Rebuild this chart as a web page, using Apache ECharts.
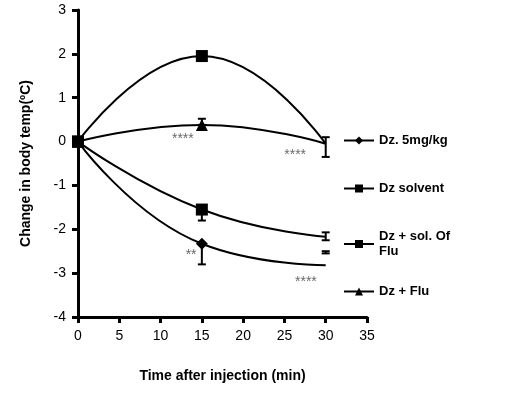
<!DOCTYPE html><html><head><meta charset="utf-8"><script src="https://cdn.jsdelivr.net/npm/echarts@6/dist/echarts.min.js"></script></head><body style="margin:0"><div id="c" style="width:508px;height:406px"></div><script>
const times=[0,15,30];
const dz5=[0,-2.33,-2.82];
const dzSolvent=[0,1.95,-0.05];
const dzSolFlu=[0,-1.55,-2.17];
const dzFlu=[0,0.38,-0.05];
const errDz5=[[15,-2.8,-2.33]];
const errSolvent=[[15,1.85,2.05]];
const errSolFlu=[[15,-1.8,-1.55],[30,-2.25,-2.07],[30,-2.55,-2.5]];
const errFlu=[[15,0.38,0.52],[30,-0.35,0.1]];
const stars=[[12.7,0.05,'****'],[26.3,-0.3,'****'],[13.7,-2.6,'**'],[27.6,-3.2,'****']];
const names=['Dz. 5mg/kg','Dz solvent','Dz + sol. Of\nFlu','Dz + Flu'];
const legendTops=[128,176,224,279];
const F='Arial, Liberation Sans, sans-serif';
function line(name,d,sym,size){return {name,type:'line',smooth:0.5,data:times.map((t,i)=>({value:[t,d[i]],symbolSize:t===30?0:size})),symbol:sym,symbolSize:size,itemStyle:{color:'#000'},lineStyle:{color:'#000',width:2},z:3};}
function err(d){return {type:'custom',data:d,renderItem:(p,api)=>{const x=api.value(0);const a=api.coord([x,api.value(1)]),b=api.coord([x,api.value(2)]);const w=4;return {type:'group',children:[{type:'line',shape:{x1:a[0],y1:a[1],x2:b[0],y2:b[1]},style:{stroke:'#000',lineWidth:2}},{type:'line',shape:{x1:a[0]-w,y1:a[1],x2:a[0]+w,y2:a[1]},style:{stroke:'#000',lineWidth:2}},{type:'line',shape:{x1:b[0]-w,y1:b[1],x2:b[0]+w,y2:b[1]},style:{stroke:'#000',lineWidth:2}}]};},z:4};}
const ch=echarts.init(document.getElementById('c'));
ch.setOption({animation:false,
grid:{left:78,top:10,right:141,bottom:89},
legend:names.map((n,i)=>({orient:'vertical',left:338,top:legendTops[i],itemWidth:30,itemHeight:10,data:[n],textStyle:{fontFamily:F,fontWeight:'bold',fontSize:13,color:'#000',lineHeight:15}})),
xAxis:{type:'value',min:0,max:35,interval:5,name:'Time after injection (min)',nameLocation:'middle',nameGap:52,nameTextStyle:{fontFamily:F,fontWeight:'bold',fontSize:14,color:'#000'},axisLine:{onZero:false,lineStyle:{color:'#000',width:3}},axisTick:{length:6,lineStyle:{width:3}},axisLabel:{fontFamily:F,fontSize:14,color:'#000',margin:12},splitLine:{show:false}},
yAxis:{type:'value',min:-4,max:3,interval:1,name:'Change in body temp(ºC)',nameLocation:'middle',nameGap:45,nameTextStyle:{fontFamily:F,fontWeight:'bold',fontSize:14,color:'#000'},axisLine:{show:true,lineStyle:{color:'#000',width:3}},axisTick:{show:true,length:6,lineStyle:{width:3}},axisLabel:{fontFamily:F,fontSize:14,color:'#000',margin:12},splitLine:{show:false}},
series:[line(names[0],dz5,'diamond',12),line(names[1],dzSolvent,'rect',12),line(names[2],dzSolFlu,'rect',12),line(names[3],dzFlu,'triangle',12),
err(errDz5),err(errSolvent),err(errSolFlu),err(errFlu),
{type:'scatter',symbolSize:0,data:stars,label:{show:true,formatter:p=>p.data[2],color:'#444',fontSize:14,fontFamily:F,position:'inside'},z:5}]});
</script></body></html>
